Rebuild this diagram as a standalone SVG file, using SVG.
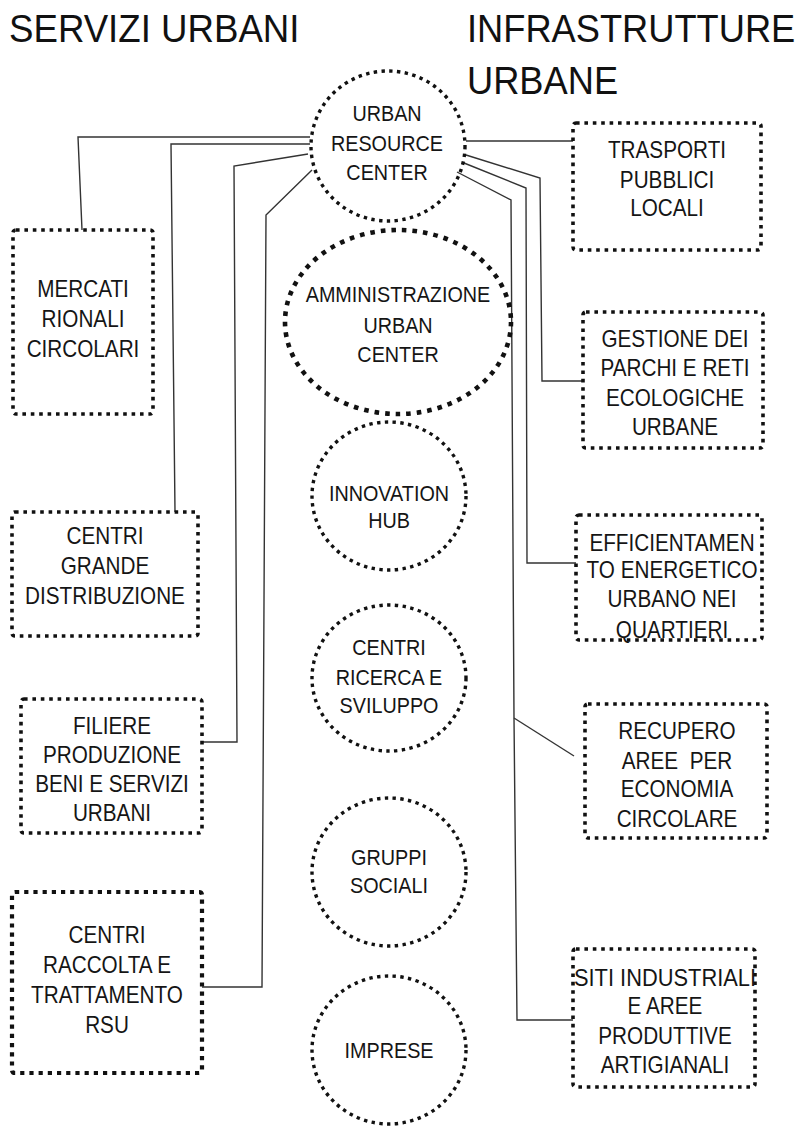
<svg xmlns="http://www.w3.org/2000/svg" width="803" height="1128" viewBox="0 0 803 1128">
<style>
  .bg{fill:#ffffff}
  .box{fill:none;stroke:#111;stroke-width:3.6;stroke-dasharray:3.6 4.8}
  .boxb{fill:none;stroke:#111;stroke-width:4.2;stroke-dasharray:4.2 5}
  .circ{fill:none;stroke:#111;stroke-width:3.4;stroke-dasharray:3.4 4.4}
  .circb{fill:none;stroke:#111;stroke-width:4.6;stroke-dasharray:4.6 6}
  .conn{fill:none;stroke:#333;stroke-width:1.4}
  .t{font-family:"Liberation Sans",Arial,sans-serif;font-size:23px;fill:#151515;text-anchor:middle}
  .tc{font-family:"Liberation Sans",Arial,sans-serif;font-size:22px;fill:#151515;text-anchor:middle}
  .title{font-family:"Liberation Sans",Arial,sans-serif;font-size:39px;fill:#111}
</style>
<rect class="bg" x="0" y="0" width="803" height="1128"/>

<g id="titles">
  <g transform="translate(9,42) scale(0.94,1)">
    <text class="title" x="0" y="0">SERVIZI URBANI</text>
  </g>
  <g transform="translate(467,42) scale(0.93,1)">
    <text class="title" x="0" y="0">INFRASTRUTTURE</text>
    <text class="title" x="0" y="52">URBANE</text>
  </g>
</g>

<g id="connectors">
  <path class="conn" d="M310,137 H78 L82,230"/>
  <path class="conn" d="M310,144 H171 L175,512"/>
  <path class="conn" d="M308,154 L234,166 L237,742 H202"/>
  <path class="conn" d="M312,170 L266,215 L262,987 H202"/>
  <path class="conn" d="M466,141 H573"/>
  <path class="conn" d="M466,155 L540,178 L542,381 H583"/>
  <path class="conn" d="M464,163 L526,188 L527,563 H576"/>
  <path class="conn" d="M457,172 L511,200 L514,718 L517,1020 H573"/>
  <path class="conn" d="M514,718 L574,756"/>
</g>

<g id="urban-resource-center">
  <ellipse class="circ" cx="388" cy="146" rx="77" ry="75"/>
  <g transform="translate(387,0) scale(0.9,1)">
    <text class="tc" x="0" y="121">URBAN</text>
    <text class="tc" x="0" y="151">RESOURCE</text>
    <text class="tc" x="0" y="180">CENTER</text>
  </g>
</g>

<g id="amministrazione">
  <ellipse class="circb" cx="398" cy="322" rx="113" ry="92"/>
  <g transform="translate(398,0) scale(0.9,1)">
    <text class="tc" x="0" y="302">AMMINISTRAZIONE</text>
    <text class="tc" x="0" y="333">URBAN</text>
    <text class="tc" x="0" y="362">CENTER</text>
  </g>
</g>

<g id="innovation-hub">
  <ellipse class="circ" cx="389" cy="496" rx="77" ry="74"/>
  <g transform="translate(389,0) scale(0.9,1)">
    <text class="tc" x="0" y="501">INNOVATION</text>
    <text class="tc" x="0" y="528">HUB</text>
  </g>
</g>

<g id="centri-ricerca">
  <ellipse class="circ" cx="389" cy="678" rx="77" ry="73"/>
  <g transform="translate(389,0) scale(0.9,1)">
    <text class="tc" x="0" y="655">CENTRI</text>
    <text class="tc" x="0" y="685">RICERCA E</text>
    <text class="tc" x="0" y="713">SVILUPPO</text>
  </g>
</g>

<g id="gruppi-sociali">
  <ellipse class="circ" cx="389" cy="872" rx="77" ry="74"/>
  <g transform="translate(389,0) scale(0.9,1)">
    <text class="tc" x="0" y="865">GRUPPI</text>
    <text class="tc" x="0" y="893">SOCIALI</text>
  </g>
</g>

<g id="imprese">
  <ellipse class="circ" cx="389" cy="1050" rx="77" ry="74"/>
  <g transform="translate(389,0) scale(0.9,1)">
    <text class="tc" x="0" y="1058">IMPRESE</text>
  </g>
</g>

<g id="mercati">
  <rect class="box" x="13" y="230" width="140" height="184" rx="3"/>
  <g transform="translate(83,0) scale(0.9,1)">
    <text class="t" x="0" y="297">MERCATI</text>
    <text class="t" x="0" y="327">RIONALI</text>
    <text class="t" x="0" y="357">CIRCOLARI</text>
  </g>
</g>

<g id="centri-grande">
  <rect class="box" x="12" y="512" width="186" height="124" rx="3"/>
  <g transform="translate(105,0) scale(0.9,1)">
    <text class="t" x="0" y="544">CENTRI</text>
    <text class="t" x="0" y="574">GRANDE</text>
    <text class="t" x="0" y="604">DISTRIBUZIONE</text>
  </g>
</g>

<g id="filiere">
  <rect class="box" x="21" y="699" width="181" height="134" rx="3"/>
  <g transform="translate(112,0) scale(0.9,1)">
    <text class="t" x="0" y="734">FILIERE</text>
    <text class="t" x="0" y="763">PRODUZIONE</text>
    <text class="t" x="0" y="792">BENI E SERVIZI</text>
    <text class="t" x="0" y="821">URBANI</text>
  </g>
</g>

<g id="centri-raccolta">
  <rect class="boxb" x="12" y="892" width="190" height="181" rx="3"/>
  <g transform="translate(107,0) scale(0.9,1)">
    <text class="t" x="0" y="943">CENTRI</text>
    <text class="t" x="0" y="973">RACCOLTA E</text>
    <text class="t" x="0" y="1003">TRATTAMENTO</text>
    <text class="t" x="0" y="1033">RSU</text>
  </g>
</g>

<g id="trasporti">
  <rect class="box" x="573" y="123" width="188" height="127" rx="3"/>
  <g transform="translate(667,0) scale(0.9,1)">
    <text class="t" x="0" y="158">TRASPORTI</text>
    <text class="t" x="0" y="188">PUBBLICI</text>
    <text class="t" x="0" y="216">LOCALI</text>
  </g>
</g>

<g id="gestione-parchi">
  <rect class="box" x="583" y="312" width="180" height="136" rx="3"/>
  <g transform="translate(675,0) scale(0.9,1)">
    <text class="t" x="0" y="347">GESTIONE DEI</text>
    <text class="t" x="0" y="376">PARCHI E RETI</text>
    <text class="t" x="0" y="406">ECOLOGICHE</text>
    <text class="t" x="0" y="435">URBANE</text>
  </g>
</g>

<g id="efficientamento">
  <rect class="box" x="576" y="515" width="186" height="125" rx="3"/>
  <g transform="translate(672,0) scale(0.9,1)">
    <text class="t" x="0" y="551">EFFICIENTAMEN</text>
    <text class="t" x="0" y="578">TO ENERGETICO</text>
    <text class="t" x="0" y="607">URBANO NEI</text>
    <text class="t" x="0" y="638">QUARTIERI</text>
  </g>
</g>

<g id="recupero-aree">
  <rect class="box" x="585" y="704" width="182" height="134" rx="3"/>
  <g transform="translate(677,0) scale(0.9,1)">
    <text class="t" x="0" y="739">RECUPERO</text>
    <text class="t" x="0" y="769" xml:space="preserve">AREE  PER</text>
    <text class="t" x="0" y="797">ECONOMIA</text>
    <text class="t" x="0" y="827">CIRCOLARE</text>
  </g>
</g>

<g id="siti-industriali">
  <rect class="box" x="573" y="949" width="182" height="138" rx="3"/>
  <g transform="translate(665,0) scale(0.95,1)">
    <text class="t" x="0" y="986">SITI INDUSTRIALI</text>
  </g>
  <g transform="translate(665,0) scale(0.9,1)">
    <text class="t" x="0" y="1014">E AREE</text>
    <text class="t" x="0" y="1044">PRODUTTIVE</text>
    <text class="t" x="0" y="1073">ARTIGIANALI</text>
  </g>
</g>
</svg>
